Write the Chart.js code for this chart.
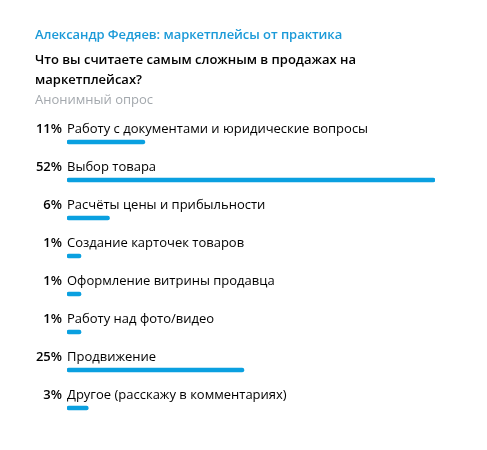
<!DOCTYPE html>
<html>
<head>
<meta charset="utf-8">
<script src="https://cdn.jsdelivr.net/npm/chart.js@4/dist/chart.umd.min.js"></script>
<style>
  html, body { margin: 0; padding: 0; background: #ffffff; }
  body { width: 487px; height: 450px; position: relative; overflow: hidden; font-family: "Open Sans", sans-serif; }
  #wrap { position: absolute; left: 0; top: 0; width: 487px; height: 450px; }
  .hdr { position: absolute; left: 35px; white-space: nowrap; font-size: 13px; line-height: 20px; }
  #author { top: 24px; color: #1b9ad8; font-weight: 600; letter-spacing: -0.05px; }
  #question { top: 49px; color: #000000; font-weight: 600; }
  #kind { top: 89px; color: #a3a8ad; font-weight: 400; }
</style>
</head>
<body>
<div id="wrap"><canvas id="c" width="487" height="450"></canvas></div>
<div class="hdr" id="author">Александр Федяев: маркетплейсы от практика</div>
<div class="hdr" id="question">Что вы считаете самым сложным в продажах на<br>маркетплейсах?</div>
<div class="hdr" id="kind">Анонимный опрос</div>
<script>
const options = [
  "Работу с документами и юридические вопросы",
  "Выбор товара",
  "Расчёты цены и прибыльности",
  "Создание карточек товаров",
  "Оформление витрины продавца",
  "Работу над фото/видео",
  "Продвижение",
  "Другое (расскажу в комментариях)"
];
const percents = [11, 52, 6, 1, 1, 1, 25, 3];

const labelPlugin = {
  id: 'pollLabels',
  afterDatasetsDraw(chart) {
    const ctx = chart.ctx;
    const xs = chart.scales.x;
    const ys = chart.scales.y;
    const left = xs.getPixelForValue(0);
    ctx.save();
    ctx.textBaseline = 'alphabetic';
    options.forEach((txt, i) => {
      const y = ys.getPixelForValue(i) - 9;
      ctx.fillStyle = '#000000';
      ctx.font = '600 13px "Open Sans"';
      ctx.textAlign = 'right';
      ctx.fillText(percents[i] + '%', left - 5, y);
      ctx.font = '400 13px "Open Sans"';
      ctx.textAlign = 'left';
      ctx.fillText(txt, left, y);
    });
    ctx.restore();
  }
};

new Chart(document.getElementById('c'), {
  type: 'bar',
  data: {
    labels: options,
    datasets: [{
      data: percents,
      backgroundColor: '#0aa0e0',
      borderWidth: 0,
      borderRadius: 2,
      borderSkipped: false,
      barThickness: 4,
      minBarLength: 14
    }]
  },
  options: {
    indexAxis: 'y',
    responsive: false,
    animation: false,
    events: [],
    layout: { padding: { left: 67, right: 52, top: 123, bottom: 23 } },
    scales: {
      x: { display: false, min: 0, max: 52, grid: { display: false } },
      y: { display: false, grid: { display: false } }
    },
    plugins: {
      legend: { display: false },
      tooltip: { enabled: false },
      title: { display: false }
    }
  },
  plugins: [labelPlugin]
});
</script>
</body>
</html>
